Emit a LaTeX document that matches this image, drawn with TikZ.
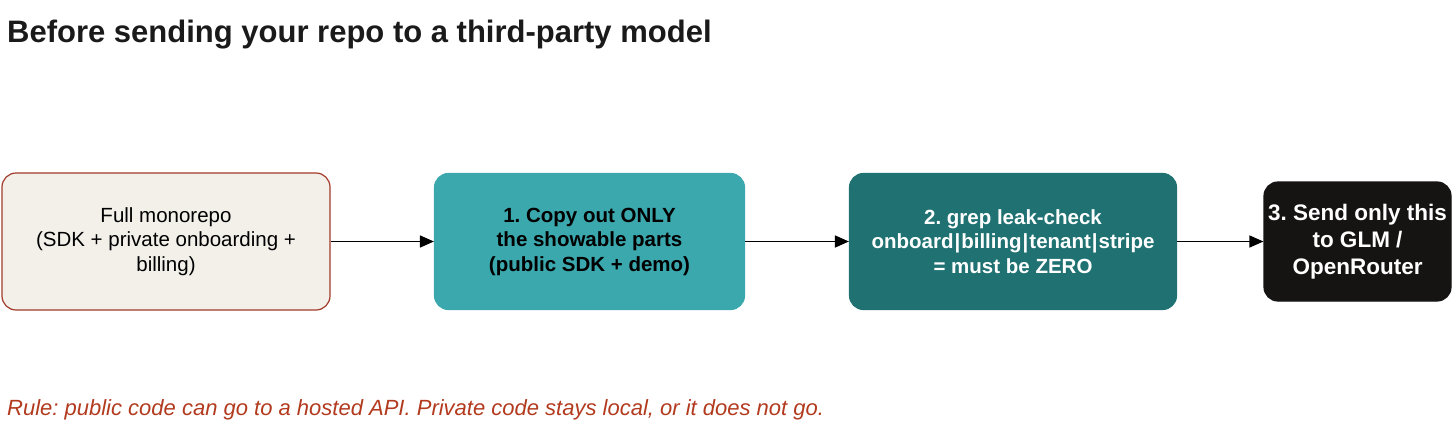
\documentclass[tikz,border=0pt]{standalone}
\usepackage{fontspec}
\setmainfont{Liberation Sans}
\usetikzlibrary{arrows.meta}
\definecolor{cream}{HTML}{F3F0EA}
\definecolor{brick}{HTML}{A33A2A}
\definecolor{tealA}{HTML}{3BA8AE}
\definecolor{tealB}{HTML}{1F7172}
\definecolor{nearblack}{HTML}{161313}
\definecolor{rulered}{HTML}{B23A1E}
\definecolor{titleblack}{HTML}{1A1A1A}
\tikzset{
  box/.style={rounded corners=14pt, align=center, inner sep=0pt, line width=1.2pt},
  conn/.style={-{Triangle[length=14pt,width=12pt]}, line width=1.6pt, draw=black},
  bodytext/.style={font=\frenchspacing\fontsize{20.5}{24.5}\selectfont},
  boldtext/.style={font=\frenchspacing\bfseries\fontsize{20.5}{24.5}\selectfont},
}
\begin{document}
\begin{tikzpicture}[x=1pt,y=-1pt]
\useasboundingbox (0,0) rectangle (1456,434);
\node[anchor=base west, font=\frenchspacing\bfseries\fontsize{31}{34}\selectfont, text=titleblack, inner sep=0pt] (title) at (7,42) {Before sending your repo to a third-party model};
\node[box, draw=brick, fill=cream, minimum width=328pt, minimum height=137pt, bodytext, text=black] (b0) at (166,241.5) {Full monorepo\\(SDK + private onboarding +\\billing)};
\node[box, draw=tealA, fill=tealA, minimum width=310pt, minimum height=136pt, boldtext, text=black] (b1) at (589.5,241.5) {1. Copy out ONLY\\the showable parts\\(public SDK + demo)};
\node[box, draw=tealB, fill=tealB, minimum width=327pt, minimum height=136pt, boldtext, text=white] (b2) at (1013,241.5) {2. grep leak-check\\onboard\kern1pt|\kern1pt billing\kern1pt|\kern1pt tenant\kern1pt|\kern1pt stripe\\= must be ZERO};
\node[box, draw=nearblack, fill=nearblack, minimum width=187pt, minimum height=119pt, font=\frenchspacing\bfseries\fontsize{22.5}{27}\selectfont, text=white] (b3) at (1357.5,241.5) {3. Send only this\\to GLM /\\OpenRouter};
\draw[conn] (b0.east) -- (b1.west);
\draw[conn] (b1.east) -- (b2.west);
\draw[conn] (b2.east) -- (b3.west);
\node[anchor=base west, font=\frenchspacing\itshape\fontsize{22}{25}\selectfont, text=rulered, inner sep=0pt] (rule) at (7,415) {Rule: public code can go to a hosted API. Private code stays local, or it does not go.};
\end{tikzpicture}
\end{document}
